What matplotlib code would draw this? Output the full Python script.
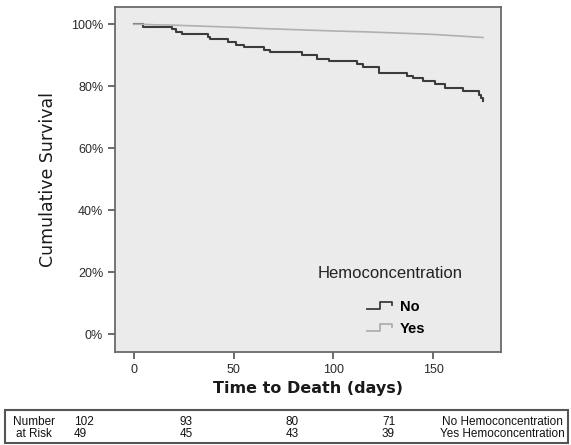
import matplotlib
matplotlib.use("Agg")
import matplotlib.pyplot as plt
from matplotlib.legend_handler import HandlerBase
from matplotlib.lines import Line2D
from matplotlib.patches import Rectangle
import numpy as np

# Kaplan-Meier (days, cumulative survival %)
no_days = [0, 4.4, 19, 21, 24, 37, 38, 47, 51, 55, 65, 68, 84, 92, 98, 112,
           115, 123, 137, 140, 145, 151, 156, 165, 173, 174, 175]
no_surv = [100, 99.1, 98.4, 97.5, 96.7, 95.9, 95.1, 94.2, 93.4, 92.6, 91.7,
           90.9, 90.0, 88.9, 88.1, 87.1, 86.2, 84.3, 83.4, 82.5, 81.6, 80.6,
           79.5, 78.5, 77.3, 76.2, 75.2]
yes_days = [0, 3, 10, 19, 50, 64, 100, 117, 150, 175]
yes_surv = [100, 100, 99.8, 99.7, 99.0, 98.6, 97.8, 97.5, 96.7, 95.7]

x_ticks = [0, 50, 100, 150]
y_ticks = [0, 20, 40, 60, 80, 100]
groups = ["No", "Yes"]
group_colors = ["#3c3c3c", "#b0b0b0"]

# number at risk table
risk_cols = ["102\n49", "93\n45", "80\n43", "71\n39"]
risk_names = ["No Hemoconcentration", "Yes Hemoconcentration"]


class StepHandler(HandlerBase):
    # little step glyph like the SPSS legend
    def create_artists(self, legend, orig_handle, xdescent, ydescent,
                       width, height, fontsize, trans):
        xs = np.array([0, 0.5, 0.5, 1, 1]) * width - xdescent
        ys = np.array([0.15, 0.15, 0.85, 0.85, 0.55]) * height - ydescent
        ln = Line2D(xs, ys, color=orig_handle.get_color(), lw=1.3)
        ln.set_transform(trans)
        return [ln]


fig = plt.figure(figsize=(5.71, 4.45), dpi=100)
ax = fig.add_axes([0.2014, 0.209, 0.676, 0.775])
ax.set_facecolor("#ebebeb")

ax.step(no_days, no_surv, where="post", color=group_colors[0], lw=1.5)
ax.plot(yes_days, yes_surv, color=group_colors[1], lw=1.2)

ax.set_xlim(-9.5, 184)
ax.set_ylim(-5.8, 105.5)
ax.set_xticks(x_ticks)
ax.set_yticks(y_ticks)
ax.set_yticklabels(["{}%".format(v) for v in y_ticks])
for sp in ax.spines.values():
    sp.set_color("#6a6a6a")
    sp.set_linewidth(1.3)
ax.tick_params(length=5, width=1.1, color="#444444", labelcolor="#2a2a2a",
               labelsize=9)
for lab in ax.get_xticklabels() + ax.get_yticklabels():
    lab.set_family("Liberation Sans")

ax.set_ylabel("Cumulative Survival", family="DejaVu Sans", fontsize=12.5,
              color="#1a1a1a", labelpad=10)
ax.set_xlabel("Time to Death (days)", family="DejaVu Sans", fontsize=11.5,
              fontweight="bold", color="#1a1a1a", labelpad=4)

handles = [Line2D([], [], color=c) for c in group_colors]
leg = ax.legend(handles, groups, handler_map={Line2D: StepHandler()},
                loc="upper left", bbox_to_anchor=(0.62, 0.19),
                frameon=False, handlelength=1.7, handletextpad=0.5,
                labelspacing=0.55,
                prop={"family": "Liberation Sans", "weight": "bold", "size": 10.5})
ax.text(0.712, 0.229, "Hemoconcentration", transform=ax.transAxes,
        ha="center", va="center", family="Liberation Sans", fontsize=12,
        color="#222222")

# number at risk box
fig.patches.append(Rectangle((5 / 571, 1 - 443 / 445), 563 / 571, 33 / 445,
                             transform=fig.transFigure, fill=False,
                             edgecolor="#555555", lw=1.5))
tfont = {"family": "Liberation Sans", "fontsize": 8.5, "color": "#111111",
         "linespacing": 1.0}
fig.text(33.5 / 571, 1 - 428 / 445, "Number\nat Risk", ha="center",
         va="center", multialignment="center", **tfont)
for xp, s in zip([74, 180, 286, 382], risk_cols):
    fig.text(xp / 571, 1 - 428 / 445, s, ha="left", va="center", **tfont)
fig.text(502 / 571, 1 - 428 / 445, "\n".join(risk_names), ha="center",
         va="center", multialignment="center", **tfont)

plt.savefig("out.png", dpi=100)
